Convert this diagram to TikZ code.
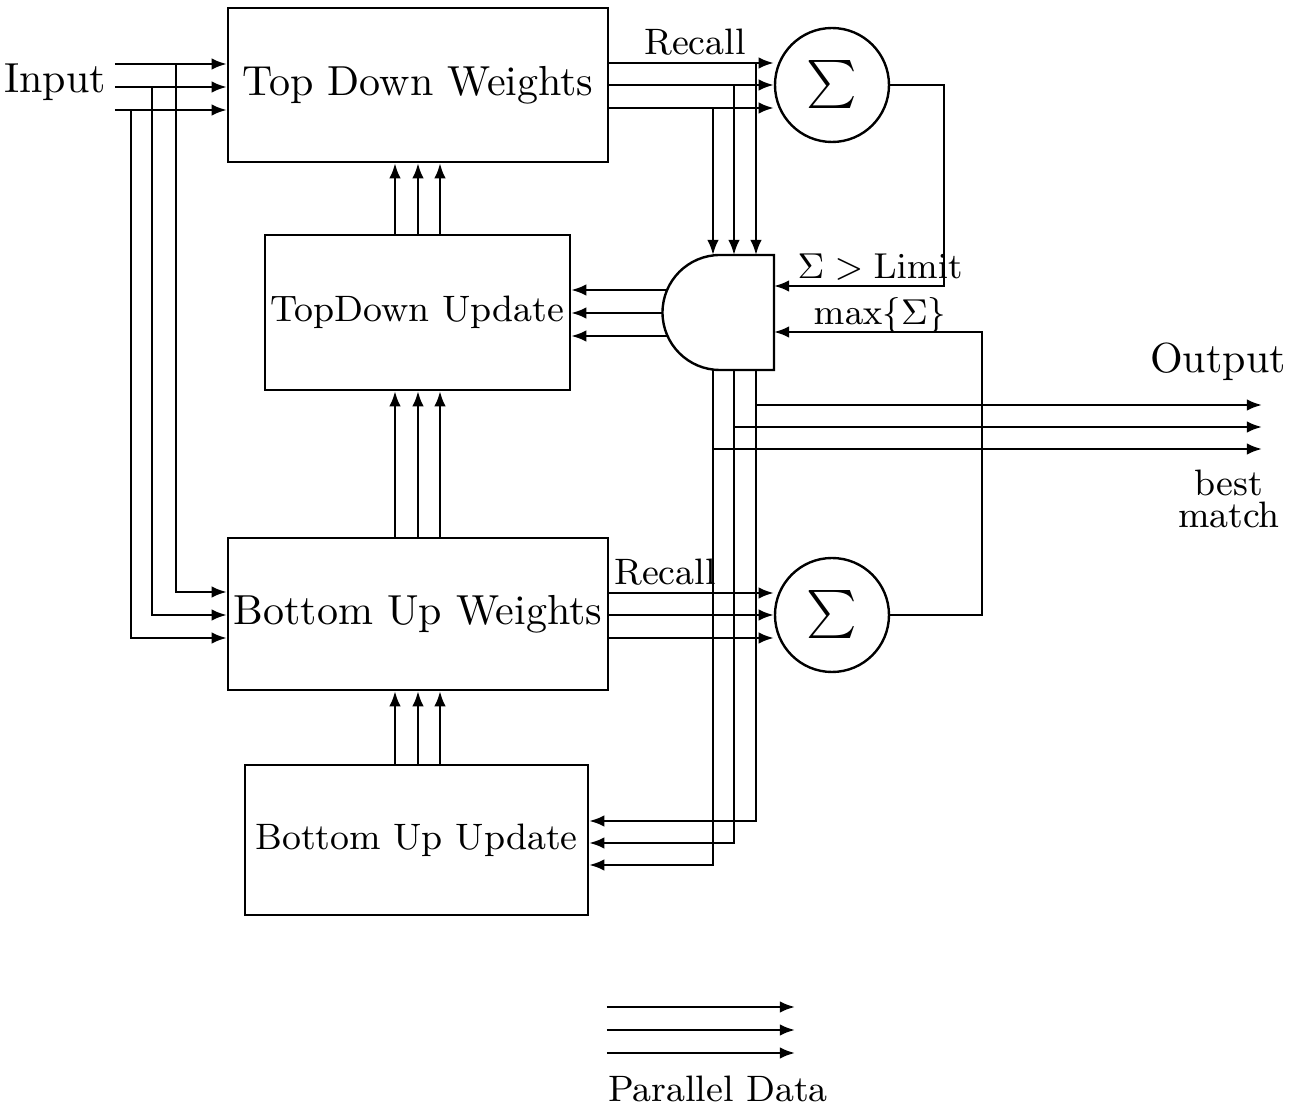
\documentclass[tikz,border=0pt]{standalone}
\usepackage{amsmath}
\usetikzlibrary{arrows.meta}
\begin{document}
\begin{tikzpicture}[x=0.25pt,y=-0.25pt,
  line width=0.6pt,
  arr/.style={-{Latex[length=3.8pt,width=2.9pt]}},
  box/.style={draw,line width=0.6pt,inner sep=0pt},
  bigtxt/.style={font=\fontsize{10.5}{12}\selectfont},
  smalltxt/.style={font=\fontsize{9.2}{11}\selectfont},
  sig/.style={draw,circle,line width=0.6pt,minimum size=28.5pt,inner sep=0pt,font=\fontsize{12.5}{14}\selectfont}]
\useasboundingbox (0,0) rectangle (1300,1111);

% boxes
\node[box,bigtxt,minimum width=95pt,minimum height=38.5pt] (tdw) at (418,85) {Top Down Weights};
\node[box,smalltxt,minimum width=76.25pt,minimum height=38.75pt] (tdu) at (417.5,312.5) {TopDown Update};
\node[box,bigtxt,minimum width=95pt,minimum height=38pt] (buw) at (418,614) {Bottom Up Weights};
\node[box,smalltxt,minimum width=85.75pt,minimum height=37.5pt] (buu) at (416.5,840) {Bottom Up Update};

% summation circles
\node[sig] (sigT) at (832,85) {$\sum$};
\node[sig] (sigB) at (832,615) {$\sum$};

% AND gate
\draw[line width=0.6pt] (774,255) -- (720,255) arc[start angle=90,end angle=270,radius=14.375pt] -- (774,370) -- cycle;
\coordinate (gate) at (720,312.5);

% labels
\node[bigtxt,anchor=base] (input) at (55,93) {Input};
\node[smalltxt,anchor=base] (rec1) at (695,55) {Recall};
\node[smalltxt,anchor=base] (rec2) at (665,585) {Recall};
\node[smalltxt,anchor=base] (lim) at (880,279) {$\Sigma > \mathrm{Limit}$};
\node[smalltxt,anchor=base] (mx) at (880,325) {$\max\{\Sigma\}$};
\node[bigtxt,anchor=base] (out) at (1218,373) {Output};
\node[font=\fontsize{9.2}{8.2}\selectfont,align=center,inner sep=0pt] (best) at (1229,499) {best\\match};
\node[smalltxt,anchor=base] (pd) at (718,1102) {Parallel Data};

% inputs
\draw[arr] (115,64) -- (tdw.west |- 0,64);
\draw[arr] (115,87) -- (tdw.west |- 0,87);
\draw[arr] (115,110) -- (tdw.west |- 0,110);
\draw[arr] (176,64) -- (176,592) -- (buw.west |- 0,592);
\draw[arr] (152,87) -- (152,615) -- (buw.west |- 0,615);
\draw[arr] (131,110) -- (131,638) -- (buw.west |- 0,638);

% vertical parallel buses between boxes
\foreach \x in {395,418,440} {
  \draw[arr] (tdu.north -| \x,0) -- (tdw.south -| \x,0);
  \draw[arr] (buw.north -| \x,0) -- (tdu.south -| \x,0);
  \draw[arr] (buu.north -| \x,0) -- (buw.south -| \x,0);
}

% recall lines
\foreach \y in {63,85,108} \draw[arr] (tdw.east |- 0,\y) -- (sigT.west |- 0,\y);
\foreach \y in {593,615,638} \draw[arr] (buw.east |- 0,\y) -- (sigB.west |- 0,\y);

% drops into gate
\draw[arr] (756,63) -- (756,255);
\draw[arr] (734,85) -- (734,255);
\draw[arr] (713,108) -- (713,255);

% gate to TopDown Update
\draw[arr] (667.1,290) -- (tdu.east |- 0,290);
\draw[arr] (662.5,313) -- (tdu.east |- 0,313);
\draw[arr] (667.1,336) -- (tdu.east |- 0,336);

% feedback from sums
\draw[arr] (sigT.east) -| (944,286) -- (774,286);
\draw[arr] (sigB.east) -| (982,332) -- (774,332);

% gate outputs
\draw[arr] (756,370) -- (756,821) -- (buu.east |- 0,821);
\draw[arr] (734,370) -- (734,843) -- (buu.east |- 0,843);
\draw[arr] (713,370) -- (713,865) -- (buu.east |- 0,865);
\draw[arr] (756,405) -- (1262,405);
\draw[arr] (734,427) -- (1262,427);
\draw[arr] (713,449) -- (1262,449);

% legend
\foreach \y in {1007,1030,1053} \draw[arr] (607,\y) -- (795,\y);
\end{tikzpicture}
\end{document}
